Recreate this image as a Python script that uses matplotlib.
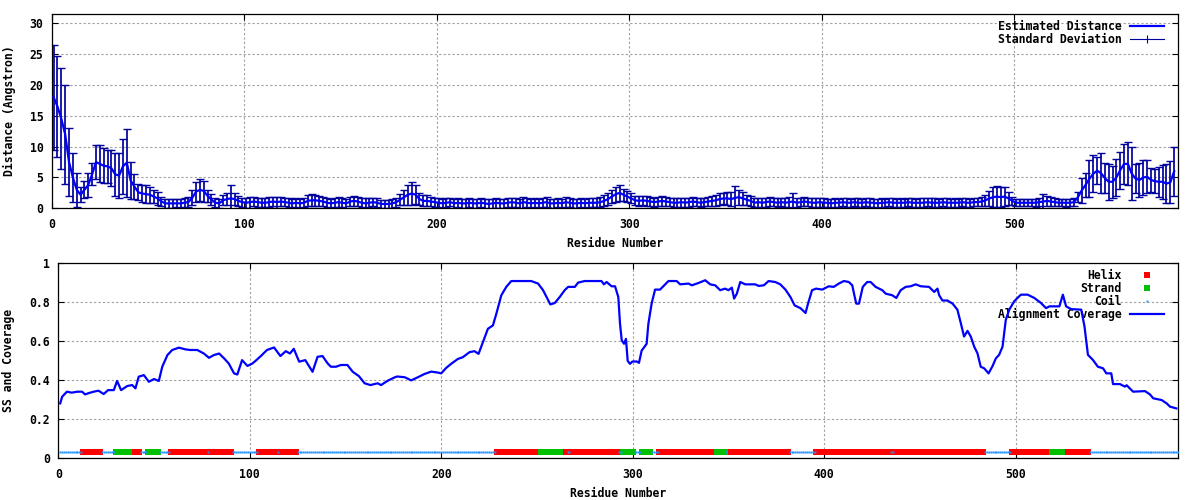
import numpy as np
import matplotlib
matplotlib.use("Agg")
import matplotlib.pyplot as plt
from matplotlib.lines import Line2D

# ---- data: distance plot (every second residue) ----
dist_res = np.arange(1, 584, 2)
dist = [
    18.0, 16.5, 14.5, 12.0, 7.5, 5.0, 3.0, 2.2, 3.0, 3.8,
    5.5, 7.5, 7.2, 6.9, 6.8, 6.5, 5.5, 5.3, 6.8, 7.4,
    4.5, 3.5, 2.6, 2.4, 2.3, 2.2, 1.9, 1.6, 1.1, 0.8,
    0.8, 0.8, 0.8, 0.8, 0.9, 1.0, 1.7, 2.7, 3.0, 2.8,
    2.0, 1.4, 0.9, 0.8, 1.3, 1.5, 1.6, 1.5, 1.2, 1.0,
    0.9, 1.0, 1.1, 1.0, 0.9, 0.9, 1.0, 1.1, 1.0, 1.1,
    1.0, 0.9, 0.8, 0.9, 0.8, 0.9, 1.2, 1.3, 1.3, 1.2,
    1.1, 0.9, 0.8, 0.9, 1.0, 0.9, 0.8, 1.1, 1.2, 1.1,
    0.9, 0.8, 0.9, 1.0, 0.9, 0.7, 0.7, 0.7, 0.8, 1.0,
    1.4, 1.8, 2.2, 2.4, 2.2, 1.5, 1.2, 1.2, 1.1, 1.0,
    0.9, 0.8, 0.9, 1.0, 0.8, 0.9, 0.8, 0.8, 0.9, 0.8,
    0.8, 0.9, 0.8, 0.7, 0.8, 0.9, 0.8, 0.8, 0.9, 1.0,
    0.9, 0.8, 1.0, 0.9, 0.8, 0.9, 0.8, 0.9, 1.0, 0.8,
    0.8, 0.9, 0.8, 1.0, 0.9, 0.8, 0.8, 0.9, 0.8, 0.9,
    0.9, 0.9, 1.0, 1.2, 1.5, 1.9, 2.3, 2.5, 2.2, 1.9,
    1.6, 1.3, 1.2, 1.3, 1.2, 1.1, 1.0, 1.1, 1.2, 1.1,
    1.0, 0.9, 0.9, 1.0, 0.9, 1.0, 1.1, 1.0, 0.9, 1.0,
    1.1, 1.2, 1.3, 1.5, 1.6, 1.6, 1.5, 1.7, 1.8, 1.6,
    1.4, 1.2, 0.9, 1.0, 0.9, 1.0, 1.1, 1.0, 0.9, 1.0,
    0.9, 1.0, 1.1, 0.9, 1.0, 1.1, 1.0, 0.9, 0.9, 1.0,
    0.9, 0.9, 0.8, 0.9, 0.9, 1.0, 0.9, 0.9, 1.0, 0.9,
    0.9, 1.0, 0.9, 0.9, 0.8, 0.9, 0.9, 1.0, 0.9, 0.9,
    0.9, 0.9, 1.0, 0.9, 0.9, 0.9, 0.9, 1.0, 0.9, 0.9,
    0.9, 1.0, 0.9, 0.9, 0.9, 0.9, 1.0, 0.9, 0.9, 1.0,
    1.0, 1.1, 1.3, 1.6, 1.8, 1.9, 1.8, 1.9, 1.6, 1.2,
    0.9, 0.9, 0.9, 0.9, 0.9, 0.9, 1.0, 1.1, 1.2, 1.1,
    1.0, 0.9, 0.9, 0.9, 0.9, 1.0, 1.8, 2.9, 3.8, 4.8,
    5.6, 6.1, 5.7, 4.9, 4.3, 4.3, 5.0, 6.2, 7.2, 7.2,
    5.6, 4.8, 4.6, 5.0, 5.1, 4.6, 4.4, 4.3, 4.3, 4.0,
    4.2, 6.0,
]
std = [
    8.5, 8.2, 8.2, 8.0, 5.5, 4.0, 2.8, 1.2, 1.4, 2.0,
    1.8, 2.8, 3.0, 2.8, 2.7, 2.9, 3.5, 3.7, 4.5, 5.5,
    3.0, 2.0, 1.3, 1.3, 1.4, 1.3, 1.1, 1.0, 0.8, 0.7,
    0.7, 0.7, 0.65, 0.7, 0.7, 0.8, 1.2, 1.6, 1.8, 1.7,
    1.0, 0.9, 0.7, 0.7, 0.8, 1.0, 2.2, 1.0, 0.8, 0.75,
    0.8, 0.9, 0.8, 0.75, 0.75, 0.75, 0.8, 0.8, 0.9, 0.8,
    0.7, 0.75, 0.7, 0.75, 0.7, 0.75, 0.9, 1.0, 0.9, 0.8,
    0.75, 0.7, 0.75, 0.7, 0.8, 0.75, 0.7, 0.8, 0.75, 0.75,
    0.7, 0.8, 0.75, 0.7, 0.75, 0.65, 0.7, 0.65, 0.7, 0.75,
    0.9, 1.2, 1.6, 1.9, 1.5, 1.0, 0.9, 0.9, 0.8, 0.75,
    0.75, 0.7, 0.75, 0.7, 0.75, 0.7, 0.75, 0.7, 0.75, 0.7,
    0.7, 0.75, 0.7, 0.75, 0.7, 0.8, 0.7, 0.75, 0.7, 0.75,
    0.75, 0.7, 0.9, 0.75, 0.7, 0.75, 0.7, 0.75, 0.8, 0.7,
    0.7, 0.75, 0.7, 0.8, 0.75, 0.7, 0.7, 0.75, 0.7, 0.75,
    0.7, 0.75, 0.8, 0.9, 1.0, 1.1, 1.2, 1.3, 1.0, 0.9,
    0.8, 0.75, 0.8, 0.75, 0.75, 0.7, 0.75, 0.7, 0.75, 0.8,
    0.7, 0.75, 0.7, 0.75, 0.7, 0.75, 0.8, 0.7, 0.75, 0.7,
    0.75, 0.8, 0.9, 1.0, 0.9, 1.0, 1.1, 1.9, 1.2, 1.0,
    0.8, 0.75, 0.7, 0.75, 0.7, 0.75, 0.8, 0.7, 0.75, 0.7,
    0.75, 0.8, 1.3, 0.75, 0.7, 0.75, 0.7, 0.75, 0.7, 0.75,
    0.7, 0.65, 0.7, 0.7, 0.65, 0.7, 0.7, 0.65, 0.7, 0.7,
    0.65, 0.7, 0.7, 0.65, 0.7, 0.7, 0.65, 0.7, 0.7, 0.65,
    0.7, 0.65, 0.7, 0.7, 0.65, 0.7, 0.7, 0.65, 0.7, 0.7,
    0.65, 0.7, 0.7, 0.65, 0.7, 0.65, 0.7, 0.7, 0.65, 0.7,
    0.7, 0.75, 0.9, 1.2, 1.6, 1.7, 1.6, 1.5, 1.0, 0.7,
    0.6, 0.6, 0.6, 0.6, 0.6, 0.65, 0.7, 1.2, 0.8, 0.7,
    0.65, 0.6, 0.6, 0.65, 0.6, 0.65, 0.8, 2.0, 1.9, 3.0,
    3.0, 2.2, 3.2, 2.4, 2.9, 2.6, 3.0, 3.0, 3.2, 3.5,
    4.3, 2.4, 2.8, 2.8, 2.7, 1.9, 2.0, 2.4, 2.8, 3.2,
    3.4, 4.0,
]

# ---- data: alignment coverage ----
cov_res = [
    1, 2, 4.5, 7, 10, 12.4, 14, 16, 18.5, 21, 23.7, 26, 29, 30.7, 32.8, 36,
    38.6, 40.3, 42, 44.7, 47.3, 50, 52.5, 54.3, 57, 59.5, 63, 66.5, 69, 72.6,
    76, 78.7, 81.3, 84, 86.6, 89, 91.8, 93.5, 96, 98.8, 101.4, 103, 105.8,
    109, 112.7, 116, 118.8, 121, 123, 125.8, 129, 132.8, 135.4, 138, 140.7,
    142.4, 145, 147.6, 151, 153.8, 157, 160, 163, 166.8, 168.6, 172, 175.6,
    177, 181, 184.3, 187.8, 191.3, 194.8, 198.3, 200, 202.6, 205.2, 208.7,
    211.3, 214.8, 217.4, 219.5, 221.8, 224.4, 227, 228.8, 231.4, 234, 236.6,
    247, 250.6, 253.2, 255, 257, 259.3, 261.9, 264.5, 266.3, 269.8, 271.5,
    275, 283.7, 285, 286.4, 289, 290.8, 292.5, 293.4, 294.3, 295.5, 296.5,
    297.4, 298.6, 299.9, 302.1, 303.3, 304.7, 306, 307.3, 308.2, 309.9,
    311.7, 314.3, 316, 318.7, 323, 324.8, 329.2, 330.9, 334.4, 337.9, 340.5,
    343.1, 345.7, 348.3, 350, 351.8, 353, 354.4, 356.2, 358.8, 364, 365.8,
    368.5, 371, 374.5, 377.1, 379.8, 382.4, 384.6, 387.6, 390.3, 391.6,
    393.7, 395.8, 399, 402.4, 405, 407.7, 410.3, 412.9, 414.7, 416, 416.8,
    418.2, 420.2, 422.5, 424.3, 426.9, 430.4, 432.2, 435.6, 437.7, 440,
    442.6, 445.2, 447.8, 450.5, 454.8, 457.5, 459.2, 460.1, 461.8, 464.4,
    467.1, 469.6, 471.4, 473.1, 474.9, 476.6, 478.4, 480.1, 481.8, 483.6,
    485.9, 488, 489.7, 491.4, 493.2, 494.9, 496.7, 499.3, 501, 502.8, 506.3,
    509.8, 513.3, 515.9, 517.7, 522.9, 524.7, 526.4, 529, 534.3, 536, 537.8,
    540.4, 543, 545.7, 547.4, 550, 550.9, 554.5, 557.1, 558, 561.4, 567.6,
    570.2, 571.9, 576.3, 578.9, 580.7, 584,
]
cov_val = [
    0.282, 0.316, 0.342, 0.337, 0.342, 0.342, 0.328, 0.335, 0.342, 0.347,
    0.33, 0.35, 0.35, 0.397, 0.35, 0.371, 0.376, 0.359, 0.419, 0.427, 0.393,
    0.407, 0.397, 0.47, 0.53, 0.556, 0.568, 0.559, 0.556, 0.556, 0.538,
    0.516, 0.53, 0.538, 0.513, 0.487, 0.436, 0.43, 0.504, 0.474, 0.487, 0.5,
    0.525, 0.556, 0.569, 0.525, 0.55, 0.538, 0.562, 0.496, 0.504, 0.444,
    0.521, 0.525, 0.487, 0.47, 0.47, 0.479, 0.479, 0.444, 0.422, 0.385,
    0.376, 0.385, 0.376, 0.398, 0.415,
    0.42, 0.416, 0.40, 0.416, 0.433, 0.445, 0.44, 0.436, 0.464, 0.485, 0.51,
    0.519, 0.545, 0.55, 0.536, 0.596, 0.665, 0.682, 0.742, 0.837, 0.88,
    0.91, 0.91, 0.897, 0.863, 0.828, 0.79, 0.797, 0.828, 0.863, 0.88, 0.88,
    0.902, 0.91, 0.91, 0.893, 0.905, 0.883, 0.883, 0.828, 0.69, 0.605,
    0.588, 0.613, 0.5, 0.485, 0.497, 0.497, 0.49, 0.553, 0.57, 0.588, 0.69,
    0.794, 0.866, 0.866, 0.883, 0.91, 0.91, 0.893, 0.897, 0.888, 0.9, 0.914,
    0.893, 0.888, 0.863, 0.871, 0.863, 0.876, 0.82, 0.845, 0.905, 0.893,
    0.893, 0.885, 0.888, 0.91, 0.905, 0.893, 0.866, 0.828, 0.785, 0.771,
    0.746, 0.794, 0.863, 0.871, 0.866, 0.883, 0.88, 0.897, 0.91, 0.905,
    0.888, 0.828, 0.794, 0.794, 0.88, 0.905, 0.905, 0.88, 0.863, 0.845,
    0.837, 0.823, 0.863, 0.88, 0.883, 0.893, 0.883, 0.88, 0.854, 0.871,
    0.837, 0.81, 0.81, 0.794, 0.763, 0.694, 0.625, 0.654, 0.625, 0.573,
    0.539, 0.47, 0.462, 0.436, 0.474, 0.513, 0.531, 0.573, 0.711, 0.763,
    0.806, 0.823, 0.84, 0.84, 0.823, 0.797, 0.771, 0.78, 0.78, 0.84, 0.78,
    0.766, 0.763, 0.677, 0.531, 0.505, 0.47, 0.462, 0.436, 0.436, 0.381,
    0.381, 0.368, 0.375, 0.342, 0.345, 0.328, 0.308, 0.299, 0.282, 0.265,
    0.256,
]

# ---- data: secondary structure (first, last residue) ----
helix_ranges = [(13, 22), (38, 42), (59, 77), (79, 90), (105, 114), (116, 124),
                (229, 252), (262, 265), (268, 292), (314, 343), (350, 381),
                (396, 434), (437, 483), (498, 519), (524, 538)]
strand_ranges = [(30, 37), (47, 52), (252, 262), (295, 300), (305, 309),
                 (344, 348), (519, 524)]
n_res = 585
ss_level = 0.03

plt.rcParams['font.family'] = ['DejaVu Sans Mono']
plt.rcParams['font.weight'] = 'bold'
plt.rcParams['font.size'] = 8.3
plt.rcParams['axes.labelweight'] = 'bold'

GRID = dict(color='#a0a0a0', linestyle=(0, (2, 2)), linewidth=0.8)

def style_axes(ax):
    ax.tick_params(direction='in', top=True, right=True, length=4.2, width=0.8, pad=6)
    ax.tick_params(axis='x', pad=7)
    for sp in ax.spines.values():
        sp.set_linewidth(0.9)
    ax.grid(True, **GRID)
    ax.set_axisbelow(True)

fig = plt.figure(figsize=(12, 5), dpi=100)
W, H = 1200.0, 500.0
ax1 = fig.add_axes([51.7/W, 1-208.3/H, (1178-51.7)/W, (208.3-14)/H])
ax2 = fig.add_axes([58.3/W, 1-458.3/H, (1178.3-58.3)/W, (458.3-263.5)/H])

# ---- top panel ----
navy = '#00009c'
ax1.errorbar(dist_res, dist, yerr=std, fmt='none', ecolor=navy, elinewidth=1.25,
             capsize=2.6, capthick=1.0, zorder=2)
est_line, = ax1.plot(dist_res, dist, color='#0000ff', lw=1.6, zorder=3)
ax1.set_xlim(0, n_res)
ax1.set_ylim(0, 31.5)
ax1.set_xticks([0, 100, 200, 300, 400, 500])
ax1.set_yticks([0, 5, 10, 15, 20, 25, 30])
ax1.set_xlabel('Residue Number', labelpad=4)
ax1.set_ylabel('Distance (Angstron)', labelpad=10)
style_axes(ax1)
sd_handle = Line2D([], [], color=navy, lw=0.8, marker='|', ms=6, mew=0.8)
leg1 = ax1.legend([est_line, sd_handle], ['Estimated Distance', 'Standard Deviation'],
                  loc='upper right', bbox_to_anchor=(1170/W, 1-14/H),
                  bbox_transform=fig.transFigure, frameon=False, markerfirst=False,
                  handlelength=3.0, handletextpad=0.7, borderpad=0, labelspacing=0.0)

# ---- bottom panel ----
helix_res = np.concatenate([np.arange(a, b + 1) for a, b in helix_ranges])
strand_res = np.concatenate([np.arange(a, b + 1) for a, b in strand_ranges])
all_res = np.arange(1, n_res + 1)
coil_res = all_res[~np.isin(all_res, np.concatenate([helix_res, strand_res]))]

h_helix, = ax2.plot(helix_res, np.full(len(helix_res), ss_level), ls='none', marker='s',
                    ms=4.4, mew=0, color='#ff0000', zorder=3)
h_strand, = ax2.plot(strand_res, np.full(len(strand_res), ss_level), ls='none', marker='s',
                     ms=5.0, mew=0, color='#00c000', zorder=3)
h_coil, = ax2.plot(coil_res, np.full(len(coil_res), ss_level), ls='none', marker='s',
                   ms=1.4, mew=0, color='#1e90ff', zorder=3)
h_cov, = ax2.plot(cov_res, cov_val, color='#0000ff', lw=1.6, zorder=4)
ax2.set_xlim(0, n_res)
ax2.set_ylim(0, 1)
ax2.set_xticks([0, 100, 200, 300, 400, 500])
ax2.set_yticks([0, 0.2, 0.4, 0.6, 0.8, 1.0])
ax2.set_yticklabels(['0', '0.2', '0.4', '0.6', '0.8', '1'])
ax2.set_xlabel('Residue Number', labelpad=4)
ax2.set_ylabel('SS and Coverage', labelpad=10)
style_axes(ax2)
leg2 = ax2.legend([h_helix, h_strand, h_coil, h_cov],
                  ['Helix', 'Strand', 'Coil', 'Alignment Coverage'],
                  loc='upper right', bbox_to_anchor=(1170/W, 1-263/H),
                  bbox_transform=fig.transFigure, frameon=False, markerfirst=False,
                  handlelength=3.0, handletextpad=0.7, borderpad=0, labelspacing=0.0)
leg2.set_zorder(1)

fig.savefig('out.png', dpi=100)
